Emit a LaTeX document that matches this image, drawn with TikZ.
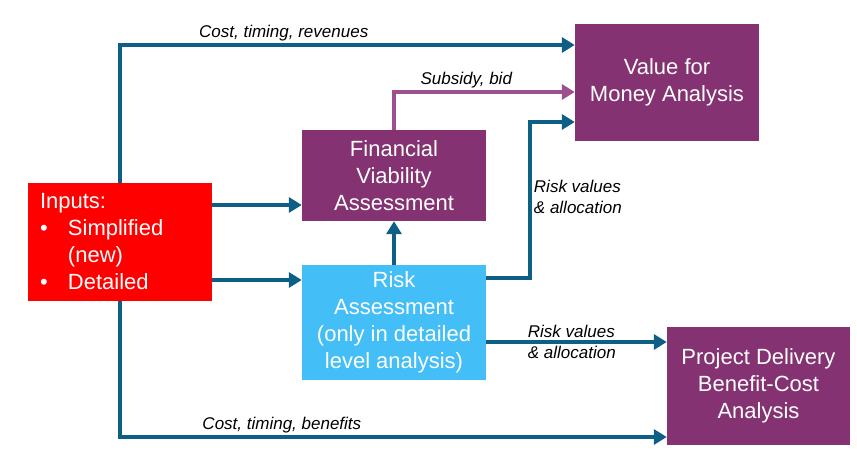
\documentclass[tikz,border=0pt]{standalone}
\usepackage{fontspec}
\setmainfont{Liberation Sans}
\usepackage{tikz}
\usetikzlibrary{arrows.meta, calc, positioning}
\definecolor{lila}{HTML}{843272}
\definecolor{lilahell}{HTML}{9E4F8E}
\definecolor{himmel}{HTML}{43BEF7}
\definecolor{petrol}{HTML}{0E5F86}
\definecolor{signal}{HTML}{FF0000}

\begin{document}
\begin{tikzpicture}[
        x=1pt, y=-1pt,
        box/.style={inner sep=0pt, minimum width=184pt, text=white,
                     font=\fontsize{22}{27}\selectfont, align=center},
        arr/.style={-{Triangle[length=13pt, width=15pt]}, line width=3.5pt, petrol},
        arrlila/.style={arr, lilahell},
        lbl/.style={font=\fontsize{17}{21}\selectfont\itshape, text=black,
                     align=left, inner sep=2pt}
      ]
      \useasboundingbox (0,0) rectangle (857,457);

      % ── Kästen ──
      \node[box, fill=signal, minimum height=118pt, align=left,
            text width=160pt, inner xsep=12pt]           (inp)  at (120,242)
        {Inputs:\\
         \makebox[28pt][l]{\textbullet}Simplified\\
         \hspace*{28pt}(new)\\
         \makebox[28pt][l]{\textbullet}Detailed};
      \node[box, fill=lila, minimum height=91pt]         (fva)  at (394,175.5)
        {Financial\\Viability\\Assessment};
      \node[box, fill=himmel, minimum height=115pt]      (risk) at (394,322.5)
        {Risk\\Assessment\\(only in detailed\\level analysis)};
      \node[box, fill=lila, minimum height=117pt]        (vfm)  at (667,82.5)
        {Value for\\Money Analysis};
      \node[box, fill=lila, minimum height=118pt, minimum width=183pt]
                                                         (pdb)  at (758.5,386)
        {Project Delivery\\Benefit-Cost\\Analysis};

      % ── Andockpunkte ──
      \coordinate (vfmtop)   at ([yshift=37.5pt]vfm.west);
      \coordinate (vfmsub)   at ([yshift=-9.5pt]vfm.west);
      \coordinate (vfmrisk)  at ([yshift=-39.5pt]vfm.west);
      \coordinate (fvain)    at ([yshift=-29.5pt]fva.west);
      \coordinate (riskin)   at ([yshift=42.5pt]risk.west);
      \coordinate (riskout)  at ([yshift=44.5pt]risk.east);
      \coordinate (pdbrisk)  at ([yshift=44pt]pdb.west);
      \coordinate (pdbbot)   at ([yshift=-51pt]pdb.west);

      % ── Eingänge ──
      \draw[arr] (inp.north) |- (vfmtop)
        node[lbl, above, pos=0.68] {Cost, timing, revenues};
      \draw[arr] (inp.south) |- (pdbbot)
        node[lbl, above, pos=0.648] {Cost, timing, benefits};
      \draw[arr] (inp.east |- fvain) -- (fvain);
      \draw[arr] (inp.east |- riskin) -- (riskin);

      % ── Zwischenergebnisse ──
      \draw[arr] (risk.north) -- (fva.south);
      \draw[arrlila] (fva.north) |- (vfmsub)
        node[lbl, above, pos=0.70] {Subsidy, bid};
      \draw[arr] (riskout) -- ++(44,0) |- (vfmrisk)
        node[lbl, right, pos=0.26] {Risk values\\\& allocation};
      \draw[arr] (risk.east |- pdbrisk) -- (pdbrisk)
        node[lbl, anchor=west, pos=0.21] {Risk values\\\& allocation};
    \end{tikzpicture}
\end{document}
